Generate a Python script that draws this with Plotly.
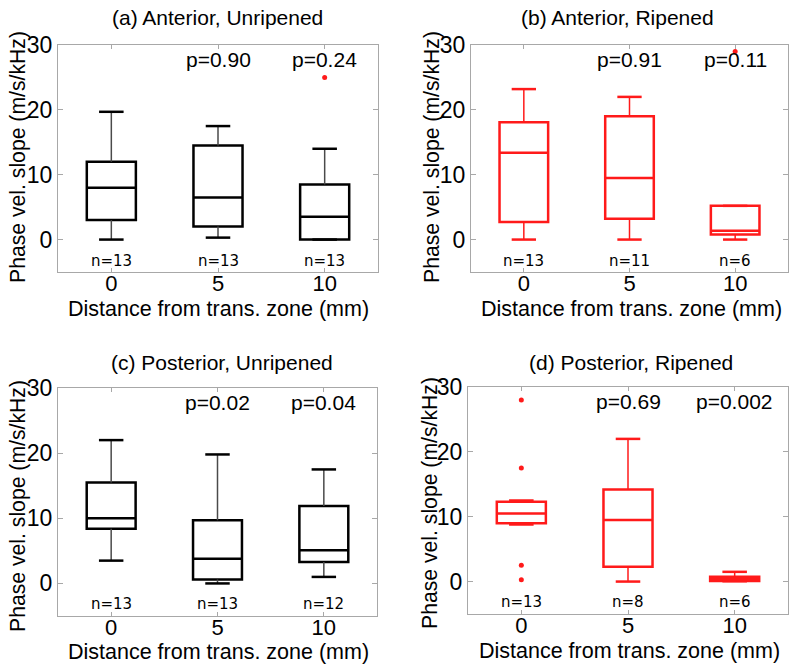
import plotly.graph_objects as go

# ---------------- data ----------------
distances = ["0", "5", "10"]

titles = ["(a) Anterior, Unripened", "(b) Anterior, Ripened",
          "(c) Posterior, Unripened", "(d) Posterior, Ripened"]

# box statistics per panel: [dist 0, dist 5, dist 10]
a_lower = [0.0, 0.3, 0.0]
a_q1 = [3.0, 2.0, 0.0]
a_median = [8.0, 6.5, 3.5]
a_q3 = [12.0, 14.5, 8.5]
a_upper = [19.7, 17.5, 14.0]
a_out_x = [2]
a_out_y = [25.0]
a_n = [13, 13, 13]
a_p = ["", "p=0.90", "p=0.24"]

b_lower = [0.0, 0.0, 0.0]
b_q1 = [2.7, 3.2, 0.8]
b_median = [13.4, 9.5, 1.35]
b_q3 = [18.1, 19.0, 5.2]
b_upper = [23.2, 22.0, 5.2]
b_out_x = [2]
b_out_y = [29.0]
b_n = [13, 11, 6]
b_p = ["", "p=0.91", "p=0.11"]

c_lower = [3.5, 0.0, 1.0]
c_q1 = [8.4, 0.6, 3.3]
c_median = [10.0, 3.8, 5.1]
c_q3 = [15.5, 9.7, 11.9]
c_upper = [22.0, 19.8, 17.5]
c_out_x = []
c_out_y = []
c_n = [13, 13, 12]
c_p = ["", "p=0.02", "p=0.04"]

d_lower = [8.8, 0.0, 0.05]
d_q1 = [9.0, 2.3, 0.1]
d_median = [10.5, 9.5, 0.4]
d_q3 = [12.3, 14.2, 0.75]
d_upper = [12.5, 22.0, 1.5]
d_out_x = [0, 0, 0, 0]
d_out_y = [28.0, 17.5, 2.5, 0.3]
d_n = [13, 8, 6]
d_p = ["", "p=0.69", "p=0.002"]

y_ticks = [0, 10, 20, 30]

# ---------------- styling / layout ----------------
W, H = 800, 672
BLACK = "#000000"
RED = "#ff1a1a"
FRAME = "#a8a8a8"
FONT = "Liberation Sans, Arial, sans-serif"

panels = [
    dict(lower=a_lower, q1=a_q1, med=a_median, q3=a_q3, upper=a_upper,
         ox=a_out_x, oy=a_out_y, n=a_n, p=a_p, color=BLACK, wcolor="#4a4a4a",
         xdom=(58, 378), ydom=(45, 272), title=(217, 17), xt=(218, 309), yt=(18, 157), ny=-3.35),
    dict(lower=b_lower, q1=b_q1, med=b_median, q3=b_q3, upper=b_upper,
         ox=b_out_x, oy=b_out_y, n=b_n, p=b_p, color=RED, wcolor=RED,
         xdom=(471, 788), ydom=(45, 272), title=(617, 17), xt=(631, 309), yt=(432, 157), ny=-3.3),
    dict(lower=c_lower, q1=c_q1, med=c_median, q3=c_q3, upper=c_upper,
         ox=c_out_x, oy=c_out_y, n=c_n, p=c_p, color=BLACK, wcolor="#4a4a4a",
         xdom=(58, 377), ydom=(388, 616), title=(222, 362), xt=(218, 652), yt=(18, 506), ny=-3.1),
    dict(lower=d_lower, q1=d_q1, med=d_median, q3=d_q3, upper=d_upper,
         ox=d_out_x, oy=d_out_y, n=d_n, p=d_p, color=RED, wcolor=RED,
         xdom=(468, 788), ydom=(387, 614), title=(631, 362), xt=(629, 651), yt=(430, 503), ny=-3.1),
]

BOX_W = 0.46
CAP_HALF = 0.115

fig = go.Figure()
annotations = []
layout_axes = {}


def paper_text(px, py, text, size, family=FONT, angle=0):
    return dict(x=px / W, y=1 - py / H, xref="paper", yref="paper", text=text,
                xanchor="center", yanchor="middle", textangle=angle,
                showarrow=False, font=dict(family=family, size=size, color=BLACK))


for k, pn in enumerate(panels):
    sfx = "" if k == 0 else str(k + 1)
    xa, ya = "x" + sfx, "y" + sfx
    pos = [i + 1 for i in range(len(distances))]
    col = pn["color"]

    # whiskers
    wx, wy, cx, cy = [], [], [], []
    for i, xp in enumerate(pos):
        wx += [xp, xp, None, xp, xp, None]
        wy += [pn["q3"][i], pn["upper"][i], None, pn["q1"][i], pn["lower"][i], None]
        cx += [xp - CAP_HALF, xp + CAP_HALF, None, xp - CAP_HALF, xp + CAP_HALF, None]
        cy += [pn["upper"][i], pn["upper"][i], None, pn["lower"][i], pn["lower"][i], None]
    fig.add_trace(go.Scatter(x=wx, y=wy, mode="lines", xaxis=xa, yaxis=ya,
                             line=dict(color=pn["wcolor"], width=1.5), showlegend=False,
                             hoverinfo="skip"))
    fig.add_trace(go.Scatter(x=cx, y=cy, mode="lines", xaxis=xa, yaxis=ya,
                             line=dict(color=col, width=2.5), showlegend=False,
                             hoverinfo="skip"))
    # boxes
    fig.add_trace(go.Box(x=pos, q1=pn["q1"], median=pn["med"], q3=pn["q3"],
                         lowerfence=pn["q1"], upperfence=pn["q3"],
                         xaxis=xa, yaxis=ya, width=BOX_W, whiskerwidth=0,
                         line=dict(color=col, width=2.5), fillcolor="rgba(0,0,0,0)",
                         showlegend=False, boxpoints=False))
    # outliers
    if pn["ox"]:
        fig.add_trace(go.Scatter(x=[pos[i] for i in pn["ox"]], y=pn["oy"], mode="markers",
                                 xaxis=xa, yaxis=ya, marker=dict(color=RED, size=5),
                                 showlegend=False))
    # n labels and p labels
    for i, xp in enumerate(pos):
        annotations.append(dict(x=xp, y=pn["ny"], xref=xa, yref=ya, text="n=%d" % pn["n"][i],
                                xanchor="center", yanchor="middle",
                                showarrow=False, font=dict(family="DejaVu Sans", size=15, color=BLACK)))
        if pn["p"][i]:
            annotations.append(dict(x=xp, y=27.7, xref=xa, yref=ya, text=pn["p"][i],
                                    xanchor="center", yanchor="middle",
                                    showarrow=False, font=dict(family=FONT, size=21, color=BLACK)))

    x0, x1 = pn["xdom"]
    y0, y1 = pn["ydom"]
    layout_axes["xaxis" + sfx] = dict(
        domain=[x0 / W, x1 / W], anchor=ya, range=[0.5, 3.5], automargin=False,
        tickvals=pos, ticktext=distances, ticks="inside", ticklen=4, tickcolor=FRAME,
        ticklabelstandoff=-8,
        showline=True, linecolor=FRAME, linewidth=1, mirror="ticks", showgrid=False,
        zeroline=False, tickfont=dict(family=FONT, size=22, color=BLACK), fixedrange=True)
    layout_axes["yaxis" + sfx] = dict(
        domain=[1 - y1 / H, 1 - y0 / H], anchor=xa, range=[-5, 30], automargin=False,
        tickvals=y_ticks, ticks="inside", ticklen=5, tickcolor=FRAME,
        showline=True, linecolor=FRAME, linewidth=1, mirror="ticks", showgrid=False,
        zeroline=False, tickfont=dict(family=FONT, size=23, color=BLACK), fixedrange=True)

    annotations.append(paper_text(*pn["title"], titles[k], 21))
    annotations.append(paper_text(*pn["xt"], "Distance from trans. zone (mm)", 21.5))
    annotations.append(paper_text(*pn["yt"], "Phase vel. slope (m/s/kHz)", 21.2, angle=-90))

fig.update_layout(
    width=W, height=H, margin=dict(l=0, r=0, t=0, b=0, pad=0, autoexpand=False),
    paper_bgcolor="white", plot_bgcolor="white",
    annotations=annotations, showlegend=False, **layout_axes)

fig.write_html("out.html", config={"displayModeBar": False},
               post_script="document.body.style.margin='0px';document.body.style.overflow='hidden';")
